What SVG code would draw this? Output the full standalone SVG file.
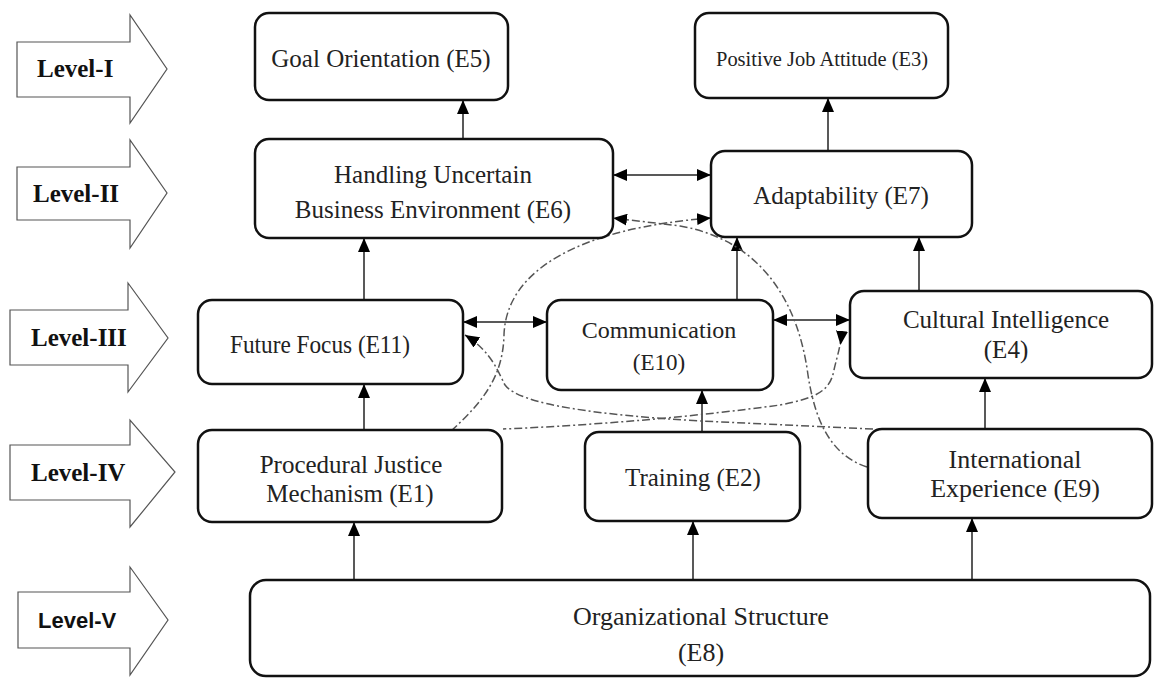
<svg xmlns="http://www.w3.org/2000/svg" width="1157" height="679" viewBox="0 0 1157 679">
<style>
.lvl{fill:#fff;stroke:#555;stroke-width:1.2}
.lt{font-family:"Liberation Serif",serif;font-weight:bold;font-size:25px;fill:#111}
.lts{font-family:"Liberation Sans",sans-serif;font-weight:bold;font-size:22px;fill:#111}
.box{fill:#fff;stroke:#111;stroke-width:2.5}
.t{font-family:"Liberation Serif",serif;font-size:25px;fill:#222;text-anchor:middle}
.sl{fill:none;stroke:#222;stroke-width:1.5}
.dl{fill:none;stroke:#555;stroke-width:1.5;stroke-dasharray:8 3 2 3}
</style>
<defs>
<marker id="ah" viewBox="0 0 14 12" refX="14" refY="6" markerWidth="14" markerHeight="12" markerUnits="userSpaceOnUse" orient="auto-start-reverse"><path d="M0,0 L14,6 L0,12 z" fill="#000"/></marker>
<marker id="ahf" viewBox="0 0 14 12" refX="0" refY="6" markerWidth="14" markerHeight="12" markerUnits="userSpaceOnUse" orient="auto"><path d="M0,0 L14,6 L0,12 z" fill="#000"/></marker>
</defs>
<rect width="1157" height="679" fill="#fff"/>
<g id="levels">
<g id="level1"><polygon class="lvl" points="17,42 130,42 130,15 167,69 130,123 130,97 17,97"/><text class="lt" x="37" y="77">Level-I</text></g>
<g id="level2"><polygon class="lvl" points="17,167 130,167 130,140 167,193 130,248 130,220 17,220"/><text class="lt" x="33" y="202">Level-II</text></g>
<g id="level3"><polygon class="lvl" points="10,310 128,310 128,283 168,338 128,392 128,365 10,365"/><text class="lt" x="31" y="346">Level-III</text></g>
<g id="level4"><polygon class="lvl" points="10,445 130,445 130,420 175,472 130,527 130,500 10,500"/><text class="lt" x="31" y="481">Level-IV</text></g>
<g id="level5"><polygon class="lvl" points="18,592 130,592 130,567 168,620 130,675 130,648 18,648"/><text class="lts" x="38" y="628">Level-V</text></g>
</g>
<g id="connectors">
<path class="sl" d="M463,139 V100" marker-end="url(#ah)"/>
<path class="sl" d="M828,151 V98" marker-end="url(#ah)"/>
<path class="sl" d="M613,175 H711" marker-start="url(#ah)" marker-end="url(#ah)"/>
<path class="sl" d="M364,300 V238" marker-end="url(#ah)"/>
<path class="sl" d="M737,300 V237" marker-end="url(#ah)"/>
<path class="sl" d="M919,291 V237" marker-end="url(#ah)"/>
<path class="sl" d="M463,322 H547" marker-start="url(#ah)" marker-end="url(#ah)"/>
<path class="sl" d="M773,320 H850" marker-start="url(#ah)" marker-end="url(#ah)"/>
<path class="sl" d="M364,430 V384" marker-end="url(#ah)"/>
<path class="sl" d="M702,432 V390" marker-end="url(#ah)"/>
<path class="sl" d="M985,429 V378" marker-end="url(#ah)"/>
<path class="sl" d="M354,580 V522" marker-end="url(#ah)"/>
<path class="sl" d="M693,580 V521" marker-end="url(#ah)"/>
<path class="sl" d="M972,580 V518" marker-end="url(#ah)"/>
<path class="dl" d="M451,431 C485,400 503,375 504,335 C506,270 580,228 711,218" marker-end="url(#ah)"/>
<path class="dl" d="M867,467 C830,455 815,420 808,375 C798,300 760,240 680,226 L613,218" marker-end="url(#ah)"/>
<path class="dl" d="M873,429 L700,421 C600,415 520,405 505,385 C498,372 492,352 465,335" marker-end="url(#ah)"/>
<path class="dl" d="M842,331 C840,350 836,360 834,370 C830,392 815,398 780,405 C700,416 600,425 503,429" marker-start="url(#ahf)"/>
</g>
<g id="E5"><rect class="box" x="255" y="13" width="253" height="87" rx="14"/><text class="t" x="381" y="67">Goal Orientation (E5)</text></g>
<g id="E3"><rect class="box" x="695" y="13" width="253" height="85" rx="14"/><text class="t" x="822" y="66" style="font-size:22px" textLength="212" lengthAdjust="spacingAndGlyphs">Positive Job Attitude (E3)</text></g>
<g id="E6"><rect class="box" x="255" y="139" width="358" height="99" rx="14"/><text class="t" x="433" y="183">Handling Uncertain</text><text class="t" x="433" y="218">Business Environment (E6)</text></g>
<g id="E7"><rect class="box" x="711" y="151" width="261" height="86" rx="14"/><text class="t" x="841" y="204">Adaptability (E7)</text></g>
<g id="E11"><rect class="box" x="198" y="300" width="265" height="84" rx="14"/><text class="t" x="320" y="353" textLength="180" lengthAdjust="spacingAndGlyphs">Future Focus (E11)</text></g>
<g id="E10"><rect class="box" x="547" y="300" width="226" height="90" rx="14"/><text class="t" x="659" y="338" style="font-size:24px">Communication</text><text class="t" x="659" y="370" style="font-size:23px">(E10)</text></g>
<g id="E4"><rect class="box" x="850" y="291" width="302" height="87" rx="14"/><text class="t" x="1006" y="328">Cultural Intelligence</text><text class="t" x="1006" y="358">(E4)</text></g>
<g id="E1"><rect class="box" x="198" y="430" width="304" height="92" rx="14"/><text class="t" x="351" y="473">Procedural Justice</text><text class="t" x="350" y="502">Mechanism (E1)</text></g>
<g id="E2"><rect class="box" x="585" y="432" width="215" height="89" rx="14"/><text class="t" x="693" y="486">Training (E2)</text></g>
<g id="E9"><rect class="box" x="868" y="429" width="284" height="89" rx="14"/><text class="t" x="1015" y="468" style="font-size:26px">International</text><text class="t" x="1015" y="497" style="font-size:26px">Experience (E9)</text></g>
<g id="E8"><rect class="box" x="250" y="580" width="900" height="96" rx="16"/><text class="t" x="701" y="625" style="font-size:26px">Organizational Structure</text><text class="t" x="701" y="661" style="font-size:26px">(E8)</text></g>
</svg>
